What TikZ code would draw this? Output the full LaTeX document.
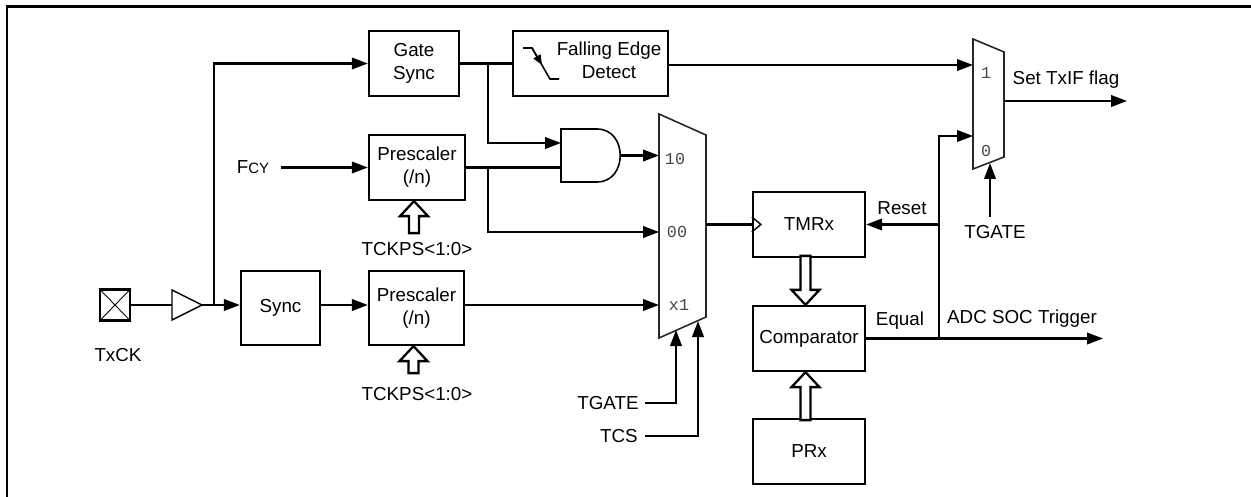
\documentclass[tikz,border=0pt]{standalone}
\usepackage{fontspec}
\setmainfont{Liberation Sans}
\setmonofont{Liberation Mono}
\usetikzlibrary{arrows.meta,calc}
\tikzset{
  pics/hup/.style={code={\draw[line width=1.3pt,fill=white] (0,0) -- (14,15) -- (5,15) -- (5,#1) -- (-5,#1) -- (-5,15) -- (-14,15) -- cycle;}},
  pics/hdown/.style={code={\draw[line width=1.3pt,fill=white] (0,0) -- (14,-15) -- (5,-15) -- (5,-#1) -- (-5,-#1) -- (-5,-15) -- (-14,-15) -- cycle;}}
}
\begin{document}
\begin{tikzpicture}[x=0.02cm,y=-0.02cm,
  every node/.style={font=\fontsize{10.7}{13}\selectfont, inner sep=0pt},
  box/.style={draw, line width=1.3pt, align=center},
  wire/.style={line width=1.3pt},
  arr/.style={wire, -{Triangle[length=0.32cm,width=0.23cm]}},
  thinline/.style={line width=0.8pt},
  sel/.style={font=\ttfamily\fontsize{9.5}{11}\selectfont, text=black!72},
  muxshape/.style={line width=0.9pt, draw=black!85}]
\useasboundingbox (0,0) rectangle (1251,497);
% frame
\draw[line width=1.7pt] (7,497) -- (7,6.5) -- (1251,6.5);

% boxes
\node[box, minimum width=1.8cm, minimum height=1.3cm] (gsync) at (414,63.5) {Gate\\Sync};
\node[box, minimum width=3.1cm, minimum height=1.3cm] (fed) at (590.5,63.5) {};
\node[align=center] (fedtxt) at (609,60) {Falling Edge\\Detect};
\node[box, minimum width=1.92cm, minimum height=1.3cm] (pre1) at (417,167.5) {Prescaler\\(/n)};
\node[box, minimum width=1.58cm, minimum height=1.48cm] (sync) at (280.5,308) {Sync};
\node[box, minimum width=1.9cm, minimum height=1.48cm] (pre2) at (416.5,308) {Prescaler\\(/n)};
\node[box, minimum width=2.24cm, minimum height=1.3cm] (tmr) at (809,224.5) {TMRx};
\node[box, minimum width=2.24cm, minimum height=1.3cm] (cmp) at (809,338.5) {Comparator};
\node[box, minimum width=2.24cm, minimum height=1.3cm] (prx) at (809,451.5) {PRx};

% falling edge glyph
\draw[line width=0.9pt] (523,48) -- (532,48) -- (550,79) -- (559,79);
\draw[line width=0.9pt, -{Triangle[length=0.2cm,width=0.16cm]}] (532,48) -- (542,65);

% TxCK pad and buffer
\node[draw, line width=1.2pt, minimum width=0.6cm, minimum height=0.62cm] (pad) at (115,305) {};
\draw[line width=0.5pt] (pad.north west) -- (pad.south east) (pad.north east) -- (pad.south west);
\node (txck) at (118,355) {TxCK};
\draw[thinline] (172,290) -- (202,305) -- (172,320) -- cycle;
\coordinate (bufin) at (172,305);
\coordinate (bufout) at (202,305);
\coordinate (j1) at (214,305);
\draw[wire] (pad.east) -- (bufin);
\draw[arr] (bufout) -- (bufout -| sync.west);
\draw[arr] (j1) |- (gsync.west);

% Fcy
\node (fcy) at (253,167.5) {F{\fontsize{8.5}{9}\selectfont CY}};
\draw[arr] ($(fcy.east)+(12,0)$) -- (pre1.west);

% prescaler selector hollow arrows
\pic at ($(pre1.south)+(-3,0)$) {hup=32};
\node (tck1) at (417,249) {TCKPS<1:0>};
\pic at ($(pre2.south)+(-3,0)$) {hup=27};
\node (tck2) at (417,394) {TCKPS<1:0>};

\draw[arr] (sync.east |- bufout) -- (pre2.west |- bufout);

% AND gate
\draw[line width=0.9pt] (561,129) -- (597,129) .. controls (628,129) and (628,182) .. (597,182) -- (561,182) -- cycle;
\coordinate (and1) at (561,143);
\coordinate (and2) at (561,167.5);
\coordinate (andout) at (620,155.5);

% MUX 1
\draw[muxshape] (659,114) -- (706,135) -- (706,317) -- (659,338) -- cycle;
\coordinate (m1in10) at (659,155.5);
\coordinate (m1in00) at (659,232);
\coordinate (m1inx1) at (659,305);
\coordinate (m1out) at (706,224.5);
\coordinate (m1sel1) at (676,330);
\coordinate (m1sel2) at (698,321);
\node[sel] (l10) at (675,159) {10};
\node[sel] (l00) at (677,232) {00};
\node[sel] (lx1) at (679,305) {x1};

% wiring to AND and mux1
\draw[wire] (gsync.east) -- (fed.west);
\coordinate (j2) at (488,63.5);
\draw[arr] (j2) |- (and1);
\draw[wire] (pre1.east) -- (and2);
\coordinate (j3) at (488,167.5);
\draw[arr] (j3) |- (m1in00);
\draw[arr] (andout) -- (m1in10);
\draw[arr] (pre2.east |- m1inx1) -- (m1inx1);

\node[anchor=east] (tg1) at (639,403) {TGATE};
\node[anchor=east] (tcs) at (638,436) {TCS};
\draw[arr] ($(tg1.east)+(6,0)$) -| (m1sel1);
\draw[arr] ($(tcs.east)+(7,0)$) -| (m1sel2);

% mux1 to TMRx
\draw[wire] (m1out) -- (tmr.west);
\draw[thinline] ($(tmr.west)+(0,-7.5)$) -- ($(tmr.west)+(9,0)$) -- ($(tmr.west)+(0,7.5)$);

% hollow arrows around comparator
\pic at ($(cmp.north)+(-3.5,0)$) {hdown=49};
\pic at ($(cmp.south)+(-3.5,0)$) {hup=48};

% comparator output
\coordinate (adc) at (1103,338.5);
\draw[arr] (cmp.east) -- (adc);
\node (equal) at (900,321) {Equal};
\node (adcl) at (1022,319) {ADC SOC Trigger};
\coordinate (j4) at (939,338.5);
\coordinate (j5) at (939,224.5);

% MUX 2
\draw[muxshape] (973,39) -- (1004,52) -- (1004,157) -- (973,169) -- cycle;
\coordinate (m2in1) at (973,65);
\coordinate (m2in0) at (973,136);
\coordinate (m2out) at (1004,101);
\coordinate (m2sel) at (990,163);
\node[sel] (l1) at (986,73) {1};
\node[sel] (l0) at (986,151) {0};
\draw[arr] (fed.east |- m2in1) -- (m2in1);
\draw[arr] (j4) |- (m2in0);
\draw[arr] (j5) -- (tmr.east);
\node (reset) at (902,208) {Reset};
\coordinate (flag) at (1127,101);
\draw[arr] (m2out) -- (flag);
\node (setf) at (1066,80) {Set TxIF flag};
\node (tg2) at (995,232) {TGATE};
\coordinate (tg2top) at (990,217);
\draw[arr] (tg2top) -- (m2sel);
\end{tikzpicture}
\end{document}
